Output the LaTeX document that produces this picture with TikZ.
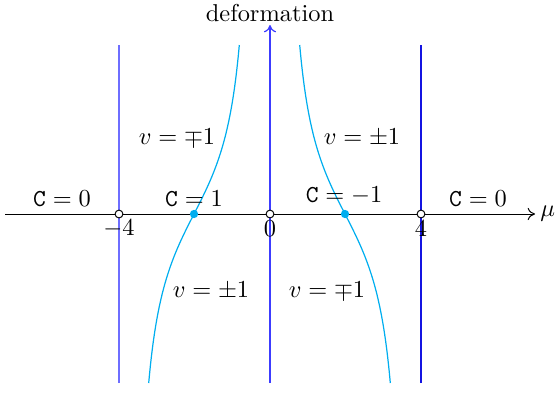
\documentclass[tikz,border=0pt]{standalone}
\usetikzlibrary{arrows.meta}
\definecolor{curvecyan}{RGB}{0,174,239}
\definecolor{lineA}{RGB}{110,110,255}
\definecolor{lineB}{RGB}{60,60,255}
\definecolor{lineC}{RGB}{20,20,225}
\tikzset{
  opendot/.style={circle,draw=black,fill=white,inner sep=0pt,minimum size=3.2pt,line width=0.4pt},
  fulldot/.style={circle,fill=curvecyan,inner sep=0pt,minimum size=3.4pt},
  curve/.style={curvecyan,line width=0.5pt},
  lbl/.style={inner sep=1pt}
}
\begin{document}
\begin{tikzpicture}[x=0.41pt,y=-0.41pt]
\useasboundingbox (0,0) rectangle (557,394);
% vertical walls
\coordinate (wlt) at (119,45); \coordinate (wlb) at (119,383);
\coordinate (wrt) at (421,45); \coordinate (wrb) at (421,383);
\coordinate (ct) at (270,25); \coordinate (cb) at (270,383);
\draw[lineA,line width=0.5pt] (wlb) -- (wlt);
\draw[lineC,line width=0.5pt] (wrb) -- (wrt);
\draw[lineB,line width=0.5pt,-{To[length=3pt,width=5pt]}] (cb) -- (ct);
\node[lbl,anchor=south] (def) at (ct) {deformation};
% curves
\draw[curve] plot[domain=45:383,samples=100,variable=\t] ({194+0.6927*atan((214-\t)/77.4)},\t);
\draw[curve] plot[domain=45:383,samples=100,variable=\t] ({345-0.6927*atan((214-\t)/77.4)},\t);
% horizontal axis
\coordinate (xl) at (5,214); \coordinate (xr) at (535,214);
\draw[line width=0.4pt,-{To[length=3pt,width=5pt]}] (xl) -- (xr);
\node[anchor=west,inner sep=2pt] (mu) at (xr) {$\mu$};
% dots
\node[opendot] (m4) at (119,214) {};
\node[opendot] (z0) at (270,214) {};
\node[opendot] (p4) at (421,214) {};
\node[fulldot] (m2) at (194,214) {};
\node[fulldot] (p2) at (345,214) {};
% tick labels
\node[lbl] (tm4) at (119,229) {$-4$};
\node[lbl] (t0) at (270,229) {$0$};
\node[lbl] (tp4) at (421,229) {$4$};
% C labels
\node[lbl] (c1) at (62,199) {$\mathtt{C}=0$};
\node[lbl] (c2) at (194,199) {$\mathtt{C}=1$};
\node[lbl] (c3) at (344,196) {$\mathtt{C}=-1$};
\node[lbl] (c4) at (478,199) {$\mathtt{C}=0$};
% v labels
\node[lbl] (v1) at (177,138) {$v=\mp1$};
\node[lbl] (v2) at (362,138) {$v=\pm1$};
\node[lbl] (v3) at (211,291) {$v=\pm1$};
\node[lbl] (v4) at (327,291) {$v=\mp1$};
\end{tikzpicture}
\end{document}
